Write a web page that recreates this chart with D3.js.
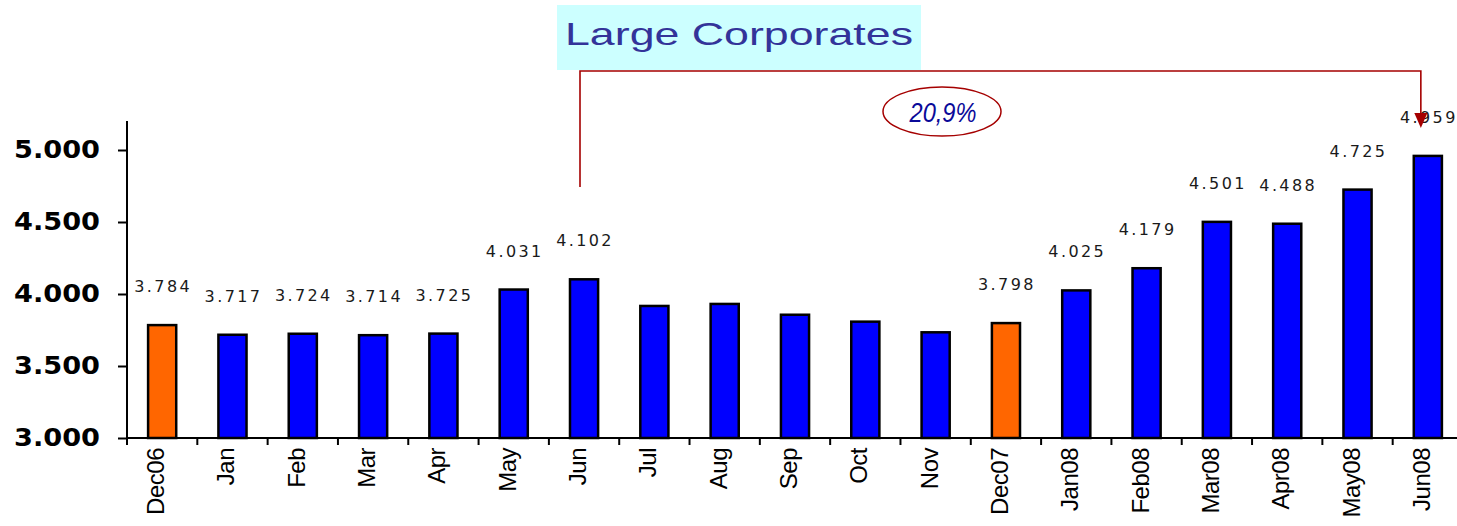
<!DOCTYPE html>
<html>
<head>
<meta charset="utf-8">
<script src="https://cdn.jsdelivr.net/npm/d3@7/dist/d3.min.js"></script>
<style>
  html, body { margin: 0; padding: 0; background: #ffffff; }
  svg { display: block; }
</style>
</head>
<body>
<svg id="chart" width="1457" height="526"></svg>
<script>
// Monthly volumes, Large Corporates segment
const categories = ["Dec06", "Jan", "Feb", "Mar", "Apr", "May", "Jun", "Jul", "Aug", "Sep", "Oct", "Nov",
                    "Dec07", "Jan08", "Feb08", "Mar08", "Apr08", "May08", "Jun08"];
const values = [3784, 3717, 3724, 3714, 3725, 4031, 4102, 3917, 3931, 3856, 3808, 3734,
                3798, 4025, 4179, 4501, 4488, 4725, 4959];
// months whose value is printed above the bar
const labelled = ["Dec06", "Jan", "Feb", "Mar", "Apr", "May", "Jun",
                  "Dec07", "Jan08", "Feb08", "Mar08", "Apr08", "May08", "Jun08"];
// year-end reference months
const yearEnds = ["Dec06", "Dec07"];
const yTicks = [3000, 3500, 4000, 4500, 5000];
const titleText = "Large Corporates";
const growthText = "20,9%";

const locale = d3.formatLocale({ decimal: ",", thousands: ".", grouping: [3], currency: ["", "€"] });
const fmt = locale.format(",d");

const svg = d3.select("#chart");

const x = d3.scaleBand()
  .domain(categories)
  .range([127, 1463])
  .paddingInner(0.6)
  .paddingOuter(0.3);

const y = d3.scaleLinear()
  .domain([3000, 5000])
  .range([438, 150]);

const axisX = x.range()[0];
const baseY = y(3000);

// Bars
svg.append("g")
  .selectAll("rect")
  .data(categories)
  .join("rect")
  .attr("x", d => x(d))
  .attr("y", (d, i) => y(values[i]))
  .attr("width", x.bandwidth())
  .attr("height", (d, i) => baseY - y(values[i]))
  .attr("fill", d => yearEnds.includes(d) ? "#ff6600" : "#0000ff")
  .attr("stroke", "#000")
  .attr("stroke-width", 2.5);

// Value labels
svg.append("g")
  .selectAll("text")
  .data(categories.filter(c => labelled.includes(c)))
  .join("text")
  .attr("x", d => x(d) + x.bandwidth() / 2 + 1)
  .attr("y", d => y(values[categories.indexOf(d)]) - 33)
  .attr("text-anchor", "middle")
  .attr("font-family", "DejaVu Sans, sans-serif")
  .attr("font-size", 16)
  .attr("letter-spacing", 2.4)
  .attr("fill", "#1a1a1a")
  .text(d => fmt(values[categories.indexOf(d)]));

// Y axis
const yAxis = svg.append("g")
  .attr("transform", `translate(${axisX},0)`)
  .call(d3.axisLeft(y).tickValues(yTicks).tickSize(9).tickFormat(""));
yAxis.select(".domain").attr("d", `M0,121V${baseY}`);
yAxis.selectAll("line, path").attr("stroke", "#000").attr("stroke-width", 2);

yAxis.selectAll(".tick")
  .append("text")
  .attr("x", -27)
  .attr("y", 7.5)
  .attr("text-anchor", "end")
  .attr("font-family", "DejaVu Sans, sans-serif")
  .attr("font-weight", "bold")
  .attr("font-size", 24)
  .attr("fill", "#000")
  .attr("textLength", 86)
  .attr("lengthAdjust", "spacingAndGlyphs")
  .text(d => fmt(d));

// X axis line and ticks at band boundaries
const xAxis = svg.append("g");
xAxis.append("line")
  .attr("x1", axisX).attr("x2", 1457)
  .attr("y1", baseY).attr("y2", baseY)
  .attr("stroke", "#000").attr("stroke-width", 2);
xAxis.selectAll("line.tk")
  .data(d3.range(categories.length + 1))
  .join("line")
  .attr("class", "tk")
  .attr("x1", i => axisX + i * x.step())
  .attr("x2", i => axisX + i * x.step())
  .attr("y1", baseY).attr("y2", baseY + 7)
  .attr("stroke", "#000").attr("stroke-width", 2);

xAxis.selectAll("text")
  .data(categories)
  .join("text")
  .attr("transform", d => `translate(${x(d) + x.bandwidth() / 2 + 2},448) rotate(-90)`)
  .attr("text-anchor", "end")
  .attr("font-family", "Liberation Sans, Arial, sans-serif")
  .attr("font-size", 24)
  .attr("letter-spacing", -0.5)
  .attr("fill", "#000")
  .text(d => d);

// Title box
const title = svg.append("g");
title.append("rect")
  .attr("x", 557).attr("y", 5)
  .attr("width", 364).attr("height", 65)
  .attr("fill", "#ccffff");
title.append("text")
  .attr("x", 565).attr("y", 45)
  .attr("font-family", "Liberation Sans, Arial, sans-serif")
  .attr("font-size", 32)
  .attr("fill", "#333399")
  .attr("textLength", 348)
  .attr("lengthAdjust", "spacingAndGlyphs")
  .text(titleText);

// Growth connector from the title to the last bar
const lastX = x(categories[categories.length - 1]) + x.bandwidth() / 2 - 7;
const conn = svg.append("g");
conn.append("path")
  .attr("d", `M580,187V71H${lastX}V116`)
  .attr("fill", "none")
  .attr("stroke", "#a50000")
  .attr("stroke-width", 1.6);
conn.append("path")
  .attr("d", `M${lastX - 6.5},113L${lastX + 6.5},113L${lastX},128Z`)
  .attr("fill", "#a50000");

// Growth badge
const badge = svg.append("g");
badge.append("ellipse")
  .attr("cx", 942).attr("cy", 111.5)
  .attr("rx", 59).attr("ry", 24.5)
  .attr("fill", "#fff")
  .attr("stroke", "#a50000")
  .attr("stroke-width", 1.5);
badge.append("text")
  .attr("x", 943).attr("y", 122)
  .attr("text-anchor", "middle")
  .attr("font-family", "Liberation Sans, Arial, sans-serif")
  .attr("font-style", "italic")
  .attr("font-size", 28)
  .attr("fill", "#0a0a99")
  .attr("textLength", 67)
  .attr("lengthAdjust", "spacingAndGlyphs")
  .text(growthText);
</script>
</body>
</html>
